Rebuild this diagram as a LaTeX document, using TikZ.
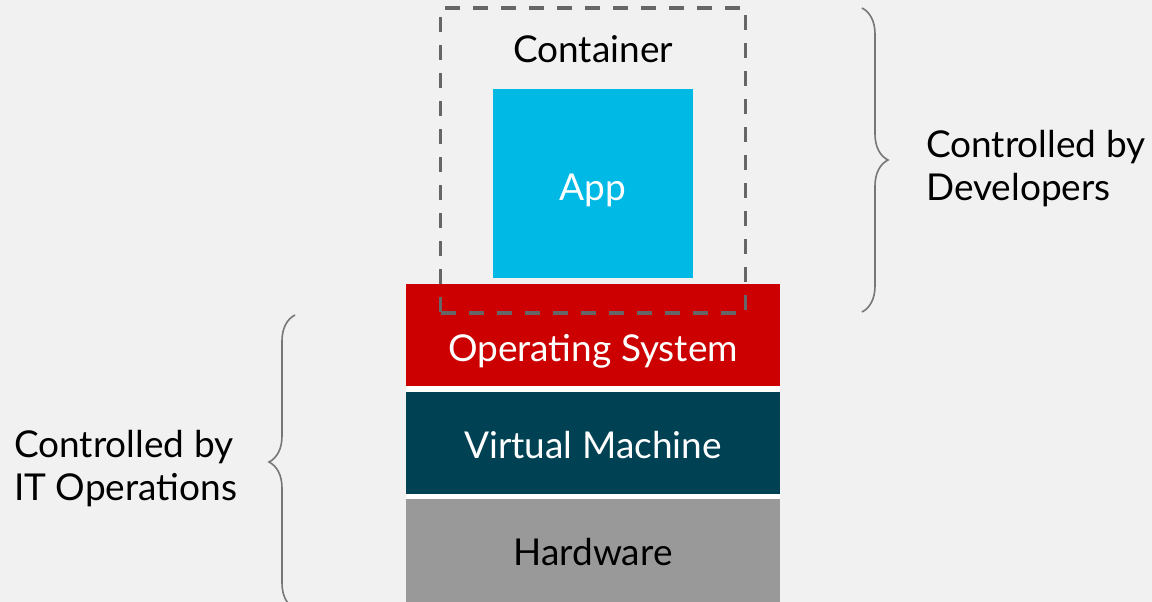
\documentclass[tikz,border=0pt]{standalone}
\usepackage{fontspec}
\setmainfont{Lato}
\usetikzlibrary{decorations.pathreplacing}

\definecolor{fond}{HTML}{F1F1F1}
\definecolor{bleuapp}{HTML}{00B9E4}
\definecolor{rougeos}{HTML}{CC0000}
\definecolor{petrole}{HTML}{004153}
\definecolor{grismat}{HTML}{999999}
\definecolor{grisbord}{HTML}{666666}
\definecolor{grisacc}{HTML}{777777}

\begin{document}
\begin{tikzpicture}[x=1pt, y=-1pt]
			\tikzset{couche/.style={rectangle, minimum width=374pt, minimum height=102pt, inner sep=0pt},
			texte/.style={anchor=base, inner sep=0pt, font=\fontsize{37}{43}\selectfont},
			legende/.style={anchor=base west, inner sep=0pt, align=left, font=\fontsize{37}{43}\selectfont},
			accolade/.style={draw=grisacc, line width=1.6pt, decorate, decoration={brace, amplitude=26pt}}};

			\fill[fond] (0, 0) rectangle (1152, 602);
			\clip (0, 0) rectangle (1152, 602);

			\node[rectangle, fill=white, minimum width=374pt, minimum height=320pt, inner sep=0pt] (pile) at (593, 444) {};
			\node[couche, fill=rougeos] (os) at (593, 335) {};
			\node[couche, fill=petrole] (vm) at (593, 443) {};
			\node[couche, fill=grismat, minimum height=110pt] (hw) at (593, 554) {};
			\node[rectangle, fill=bleuapp, minimum width=200pt, minimum height=189pt, inner sep=0pt] (app) at (593, 183.5) {};
			\node[rectangle, draw=grisbord, line width=3.2pt, dash pattern=on 15pt off 13pt, minimum width=305pt, minimum height=305pt, inner sep=0pt] (conteneur) at (593, 160.5) {};

			\node[texte] (tcont) at (593, 63) {Container};
			\node[texte, text=white] (tapp) at (593, 200) {App};
			\node[texte, text=white] (tos) at (593, 361) {Operating System};
			\node[texte, text=white] (tvm) at (593, 458) {Virtual Machine};
			\node[texte] (thw) at (593, 565) {Hardware};

			\coordinate (dh) at (862, 8);
			\coordinate (db) at (862, 312);
			\coordinate (gh) at (295, 315);
			\coordinate (gb) at (295, 609);

			\draw[accolade] (dh) -- (db);
			\draw[accolade] (gb) -- (gh);

			\node[legende] (dev) at (926, 200) {Controlled by\\Developers};
			\node[legende] (ops) at (14, 500) {Controlled by\\IT Operations};
		\end{tikzpicture}
\end{document}
